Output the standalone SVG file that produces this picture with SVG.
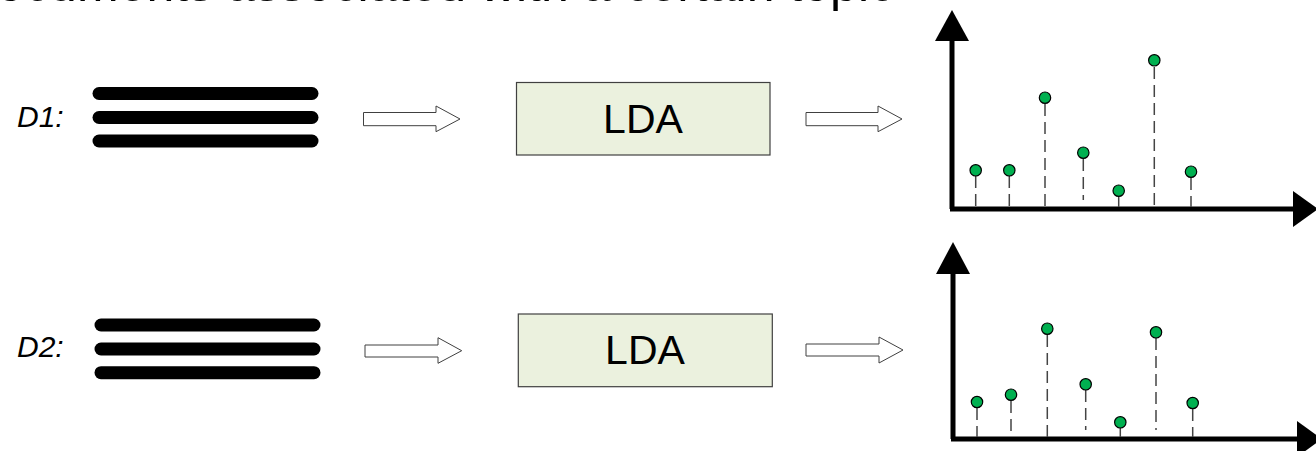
<svg xmlns="http://www.w3.org/2000/svg" width="1316" height="451" viewBox="0 0 1316 451">
<style>
.lbl{font-family:"Liberation Sans",Arial,sans-serif;font-style:italic;font-size:30px;fill:#000}
.doc{stroke:#000;stroke-width:13;stroke-linecap:round}
.box{fill:#EBF1DE;stroke:#404040;stroke-width:1.2}
.boxt{font-family:"Liberation Sans",Arial,sans-serif;font-size:41px;fill:#000;text-anchor:middle}
.barr{fill:#fff;stroke:#404040;stroke-width:1}
.axis{stroke:#000;stroke-width:5;fill:none}
.head{fill:#000}
.stem{stroke:#444;stroke-width:1.5;stroke-dasharray:12 6}
.dot{fill:#00B050;stroke:#000;stroke-width:1.2}
.title{font-family:"Liberation Sans",Arial,sans-serif;font-size:50px;fill:#000;text-anchor:end}
</style>
<text class="title" x="894" y="1">Documents associated with a certain topic</text>

<g id="row1-docs">
<text class="lbl" x="17" y="127">D1:</text>
<line class="doc" x1="99" y1="93.5" x2="312" y2="93.5"/>
<line class="doc" x1="99" y1="117.5" x2="312" y2="117.5"/>
<line class="doc" x1="99" y1="141" x2="312" y2="141"/>
</g>
<g id="row1-lda">
<rect class="box" x="516.5" y="82.5" width="253.5" height="72.5"/>
<text class="boxt" x="643" y="133">LDA</text>
</g>
<g id="row1-chart">
<line class="axis" x1="952" y1="35" x2="952" y2="209"/>
<line class="axis" x1="950" y1="209" x2="1296" y2="209"/>
<polygon class="head" points="952,10 969,41 935,41"/>
<polygon class="head" points="1318,209 1293,191 1293,227"/>
<g>
<line class="stem" x1="975.7" y1="176" x2="975.7" y2="207"/>
<line class="stem" x1="1009.3" y1="176" x2="1009.3" y2="207"/>
<line class="stem" x1="1045" y1="104" x2="1045" y2="207"/>
<line class="stem" x1="1083.3" y1="159" x2="1083.3" y2="200"/>
<line class="stem" x1="1118.7" y1="197" x2="1118.7" y2="207"/>
<line class="stem" x1="1154.3" y1="67" x2="1154.3" y2="207"/>
<line class="stem" x1="1191" y1="178" x2="1191" y2="207"/>
<circle class="dot" cx="975.7" cy="170.3" r="5.7"/>
<circle class="dot" cx="1009.3" cy="170.3" r="5.7"/>
<circle class="dot" cx="1045" cy="97.7" r="5.7"/>
<circle class="dot" cx="1083.3" cy="152.7" r="5.7"/>
<circle class="dot" cx="1118.7" cy="190.7" r="5.7"/>
<circle class="dot" cx="1154.3" cy="60.3" r="5.7"/>
<circle class="dot" cx="1191" cy="171.7" r="5.7"/>
</g>
</g>

<g id="row2-docs">
<text class="lbl" x="17" y="357">D2:</text>
<line class="doc" x1="101" y1="325" x2="314" y2="325"/>
<line class="doc" x1="101" y1="349" x2="314" y2="349"/>
<line class="doc" x1="101" y1="372.7" x2="314" y2="372.7"/>
</g>
<g id="row2-lda">
<rect class="box" x="518.3" y="314" width="254" height="72.7"/>
<text class="boxt" x="645" y="364">LDA</text>
</g>
<g id="row2-chart">
<line class="axis" x1="953" y1="268" x2="953" y2="439"/>
<line class="axis" x1="951" y1="439" x2="1300" y2="439"/>
<polygon class="head" points="953,242 970,274 936,274"/>
<polygon class="head" points="1322,439 1297,421 1297,457"/>
<g>
<line class="stem" x1="977" y1="408" x2="977" y2="437"/>
<line class="stem" x1="1011" y1="401" x2="1011" y2="437"/>
<line class="stem" x1="1047.3" y1="335" x2="1047.3" y2="437"/>
<line class="stem" x1="1085.7" y1="390" x2="1085.7" y2="430"/>
<line class="stem" x1="1120.3" y1="428" x2="1120.3" y2="437"/>
<line class="stem" x1="1156" y1="338" x2="1156" y2="430"/>
<line class="stem" x1="1192.7" y1="409" x2="1192.7" y2="437"/>
<circle class="dot" cx="977" cy="402" r="5.7"/>
<circle class="dot" cx="1011" cy="394.7" r="5.7"/>
<circle class="dot" cx="1047.3" cy="328.7" r="5.7"/>
<circle class="dot" cx="1085.7" cy="384.3" r="5.7"/>
<circle class="dot" cx="1120.3" cy="422.3" r="5.7"/>
<circle class="dot" cx="1156" cy="332.3" r="5.7"/>
<circle class="dot" cx="1192.7" cy="403" r="5.7"/>
</g>
</g>

<g id="connectors">
<polygon class="barr" points="363.5,112.5 436,112.5 436,106 460,119 436,131.7 436,125.7 363.5,125.7"/>
<polygon class="barr" points="806,112.5 878,112.5 878,106 902,119 878,131.7 878,125.7 806,125.7"/>
<polygon class="barr" points="365,345 438,345 438,337.7 461.7,350.7 438,363.3 438,357 365,357"/>
<polygon class="barr" points="806,344 879,344 879,337 903,350 879,363 879,356 806,356"/>
</g>
</svg>
